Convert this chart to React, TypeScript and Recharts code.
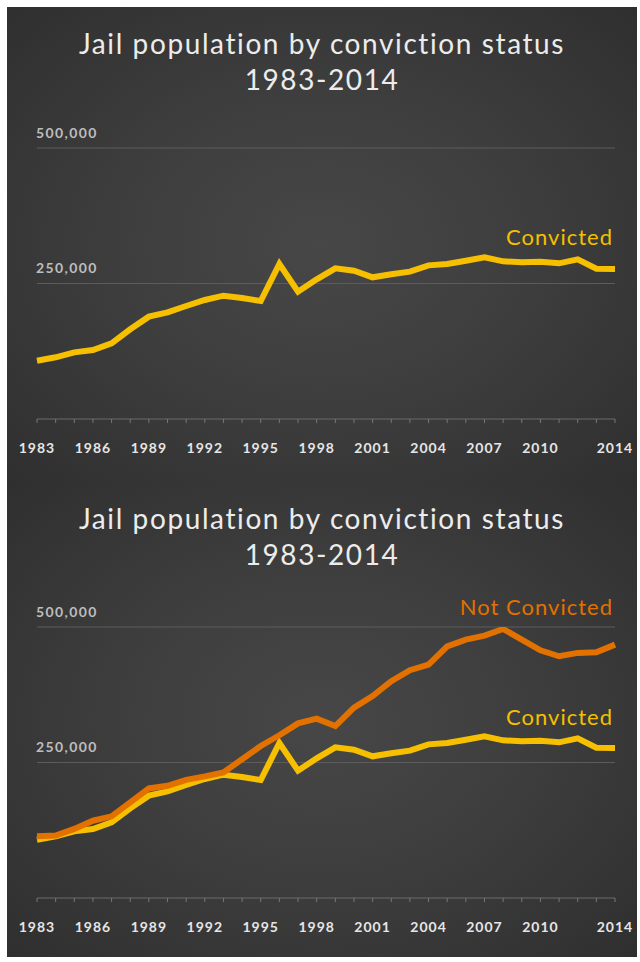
import * as React from 'react'
import { LineChart, Line, XAxis, YAxis, ReferenceLine } from 'recharts'

// Jail population by conviction status, 1983-2014 (two stacked slides)

const YEARS = [
  1983, 1984, 1985, 1986, 1987, 1988, 1989, 1990, 1991, 1992, 1993, 1994, 1995, 1996, 1997, 1998,
  1999, 2000, 2001, 2002, 2003, 2004, 2005, 2006, 2007, 2008, 2009, 2010, 2011, 2012, 2013, 2014,
]

const LABELED_YEARS = [1983, 1986, 1989, 1992, 1995, 1998, 2001, 2004, 2007, 2010, 2014]

const CONVICTED = [
  107600, 113800, 123000, 127300, 139600, 165500, 188800, 196800, 208500, 219600, 227500, 223200,
  217700, 286000, 234900, 257700, 278000, 273700, 261400, 267000, 271800, 283500, 286000, 292100,
  298300, 290900, 289100, 290300, 287200, 294600, 277400, 276800,
]

const NOT_CONVICTED = [
  114000, 115100, 127400, 142600, 150700, 176500, 202200, 207000, 218000, 224300, 231600, 256100,
  280500, 300200, 322200, 330900, 317300, 351100, 372400, 400000, 420200, 430700, 464300, 476700,
  484000, 496300, 476700, 457000, 446000, 452200, 453300, 467500,
]

const GRID_VALUES = [250000, 500000]

const TITLE = 'Jail population by conviction status'
const SUBTITLE = '1983-2014'

const FONT = 'Lato, "Open Sans", sans-serif'
const YELLOW = '#f6c000'
const ORANGE = '#e37100'

const data = YEARS.map((year, i) => ({
  year,
  convicted: CONVICTED[i],
  notConvicted: NOT_CONVICTED[i],
}))

const fmt = (v: number) => v.toLocaleString('en-US')

function GridLabel({ viewBox, value }: { viewBox?: { x: number; y: number }; value: string }) {
  if (!viewBox) return null
  return (
    <text
      x={viewBox.x - 1}
      y={viewBox.y - 16}
      fill="#bdbdbd"
      fontSize={14}
      fontWeight={700}
      letterSpacing={1.4}
      fontFamily={FONT}
      dominantBaseline="central"
    >
      {value}
    </text>
  )
}

function SeriesLabel({ text, color, top }: { text: string; color: string; top: number }) {
  return (
    <div
      style={{
        position: 'absolute',
        right: 24,
        top,
        color,
        fontFamily: FONT,
        fontSize: 22,
        lineHeight: '24px',
        letterSpacing: 1,
      }}
    >
      {text}
    </div>
  )
}

function Panel({
  withNotConvicted,
  top,
  chartOffset,
}: {
  withNotConvicted: boolean
  top: number
  chartOffset: number
}) {
  return (
    <div
      style={{
        position: 'absolute',
        left: 0,
        top,
        width: 630,
        height: 475,
        background: 'radial-gradient(ellipse at 50% 50%, #474747 0%, #3e3e3e 45%, #2f2f2f 100%)',
      }}
    >
      <div
        style={{
          position: 'absolute',
          left: 0,
          top: 18,
          width: 630,
          textAlign: 'center',
          color: '#ececec',
          fontFamily: FONT,
          fontSize: 28,
          lineHeight: '36px',
          letterSpacing: 1.6,
        }}
      >
        <div>{TITLE}</div>
        <div>{SUBTITLE}</div>
      </div>

      <div style={{ position: 'absolute', left: 0, top: chartOffset }}>
        <LineChart
          width={630}
          height={470}
          data={data}
          margin={{ top: 141, right: 22, left: 30, bottom: 0 }}
        >
          <XAxis
            dataKey="year"
            type="number"
            domain={[1983, 2014]}
            ticks={YEARS}
            interval={0}
            height={58}
            tickSize={4}
            tickMargin={20}
            axisLine={{ stroke: '#6a6a6a' }}
            tickLine={{ stroke: '#777' }}
            tick={{ fill: '#e6e6e6', fontSize: 14, fontWeight: 700, fontFamily: FONT, letterSpacing: 1 }}
            tickFormatter={(v: number) => (LABELED_YEARS.includes(v) ? String(v) : '')}
          />
          <YAxis hide domain={[0, 500000]} allowDataOverflow />
          {GRID_VALUES.map((v) => (
            <ReferenceLine
              key={v}
              y={v}
              stroke="#5c5c5c"
              strokeWidth={1}
              label={<GridLabel value={fmt(v)} />}
            />
          ))}
          <Line
            dataKey="convicted"
            stroke={YELLOW}
            strokeWidth={6}
            dot={false}
            activeDot={false}
            isAnimationActive={false}
          />
          {withNotConvicted && (
            <Line
              dataKey="notConvicted"
              stroke={ORANGE}
              strokeWidth={6}
              dot={false}
              activeDot={false}
              isAnimationActive={false}
            />
          )}
        </LineChart>
      </div>

      {withNotConvicted ? (
        <>
          <SeriesLabel text="Not Convicted" color={ORANGE} top={113} />
          <SeriesLabel text="Convicted" color={YELLOW} top={223} />
        </>
      ) : (
        <SeriesLabel text="Convicted" color={YELLOW} top={218} />
      )}
    </div>
  )
}

export default function App() {
  return (
    <div
      style={{
        position: 'absolute',
        left: 7,
        top: 7,
        width: 630,
        height: 950,
        overflow: 'hidden',
      }}
    >
      <Panel withNotConvicted={false} top={0} chartOffset={0} />
      <Panel withNotConvicted={true} top={475} chartOffset={4} />
    </div>
  )
}
